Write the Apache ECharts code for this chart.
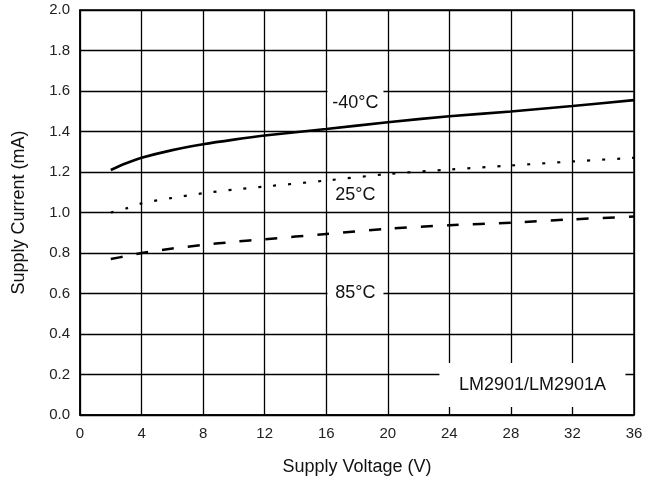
<!DOCTYPE html>
<html>
<head>
<meta charset="utf-8">
<script src="https://cdn.jsdelivr.net/npm/echarts@6/dist/echarts.min.js"></script>
<style>
html,body{margin:0;padding:0;background:#fff;}
#c{width:654px;height:483px;}
</style>
</head>
<body>
<div id="c"></div>
<script>
// Supply voltage (V)
const voltage = [2, 3, 4, 6, 8, 10, 12, 16, 20, 24, 28, 32, 36];
// Supply current (mA)
const currentM40 = [1.21, 1.243, 1.27, 1.308, 1.337, 1.36, 1.38, 1.412, 1.446, 1.475, 1.499, 1.526, 1.555];
const current25  = [1.00, 1.02, 1.045, 1.072, 1.095, 1.113, 1.128, 1.158, 1.19, 1.212, 1.232, 1.252, 1.27];
const current85  = [0.77, 0.785, 0.80, 0.822, 0.84, 0.855, 0.868, 0.894, 0.92, 0.937, 0.95, 0.966, 0.98];
const seriesNames = ['-40°C', '25°C', '85°C'];
const labelPos = [[17.9, 1.54], [17.9, 1.085], [17.9, 0.602]];
const partLabel = 'LM2901/LM2901A';
const partLabelPos = [29.4, 0.148];

const font = 'Liberation Sans, Arial, sans-serif';
function pairs(ys){ return voltage.map((x,i)=>[x, ys[i]]); }
function tag(name, pos, w, h){
  return {
    symbol: 'rect', symbolSize: [w, h], silent: true,
    itemStyle: {color: '#fff'},
    data: [{coord: pos, value: name}],
    label: {show: true, position: 'inside', formatter: name, color: '#111',
            fontFamily: font, fontSize: 18}
  };
}
const chart = echarts.init(document.getElementById('c'));
chart.setOption({
  animation: false,
  backgroundColor: '#fff',
  grid: {left: 80, right: 20, top: 10, bottom: 68, show: true,
         borderColor: '#000', borderWidth: 1.5, backgroundColor: 'transparent'},
  xAxis: {
    type: 'value', min: 0, max: 36, interval: 4,
    name: 'Supply Voltage (V)', nameLocation: 'middle', nameGap: 43,
    nameTextStyle: {fontFamily: font, fontSize: 18, color: '#111'},
    axisLine: {lineStyle: {color: '#000', width: 1.5}},
    axisTick: {show: false},
    axisLabel: {fontFamily: font, fontSize: 15, color: '#222', margin: 11},
    splitLine: {show: true, lineStyle: {color: '#000', width: 1.3}}
  },
  yAxis: {
    type: 'value', min: 0, max: 2, interval: 0.2,
    name: 'Supply Current (mA)', nameLocation: 'middle', nameGap: 52,
    nameTextStyle: {fontFamily: font, fontSize: 18, color: '#111'},
    axisLine: {show: true, lineStyle: {color: '#000', width: 1.5}},
    axisTick: {show: false},
    axisLabel: {fontFamily: font, fontSize: 15, color: '#222', margin: 10,
                formatter: v => v.toFixed(1)},
    splitLine: {show: true, lineStyle: {color: '#000', width: 1.3}}
  },
  series: [
    {name: seriesNames[0], type: 'line', data: pairs(currentM40), smooth: 0.3,
     showSymbol: false, lineStyle: {color: '#000', width: 2.6, type: 'solid'},
     markPoint: tag(seriesNames[0], labelPos[0], 56, 28)},
    {name: seriesNames[1], type: 'line', data: pairs(current25), smooth: 0.3,
     showSymbol: false, lineStyle: {color: '#000', width: 2.2, type: [3, 12]},
     markPoint: tag(seriesNames[1], labelPos[1], 56, 28)},
    {name: seriesNames[2], type: 'line', data: pairs(current85), smooth: 0.3,
     showSymbol: false, lineStyle: {color: '#000', width: 2.5, type: [12, 14]},
     markPoint: tag(seriesNames[2], labelPos[2], 56, 26)},
    {name: 'part', type: 'line', data: [],
     markPoint: tag(partLabel, partLabelPos, 186, 44)}
  ]
});
</script>
</body>
</html>
